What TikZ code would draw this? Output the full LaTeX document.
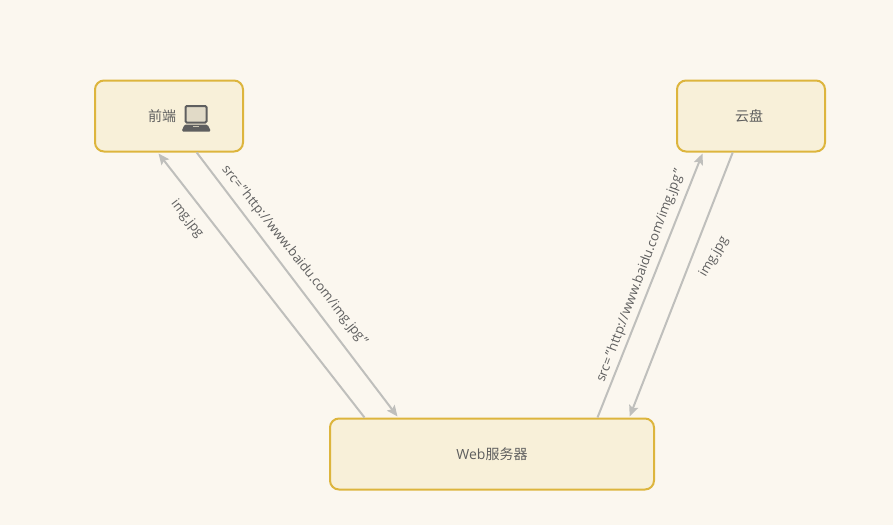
\documentclass[tikz,border=0pt]{standalone}
\usepackage{fontspec}
\setmainfont{Open Sans}
\newfontfamily\cjk{Noto Sans CJK SC}
\definecolor{bgc}{HTML}{FBF7EF}
\definecolor{boxfill}{HTML}{F8F0D9}
\definecolor{boxline}{HTML}{DDB53D}
\definecolor{linkc}{HTML}{BFBFBC}
\definecolor{txt}{HTML}{5F5F5F}
\usetikzlibrary{arrows.meta,calc}
\tikzset{
 boxnode/.style={draw=boxline,fill=boxfill,line width=2pt,rounded corners=9pt,text=txt,font=\fontsize{14}{16}\selectfont,inner sep=0pt},
 link/.style={draw=linkc,line width=2pt,-{Stealth[length=11pt,width=9.5pt,inset=2pt]}},
 lab/.style={text=txt,font=\fontsize{13}{15}\selectfont,inner sep=0pt},
 longlab/.style={text=txt,font=\fontsize{13.2}{15}\selectfont,inner sep=0pt}
}
\begin{document}
\begin{tikzpicture}[x=1pt,y=-1pt]
\useasboundingbox[fill=bgc] (0,0) rectangle (893,525);
\node[boxnode,minimum width=148pt,minimum height=71pt] (fe) at (169,116) {};
\node[boxnode,minimum width=148pt,minimum height=71pt] (pan) at (751,116) {};
\node[boxnode,minimum width=324pt,minimum height=71pt] (web) at (492,454) {};
\node[lab,font=\fontsize{14}{16}\selectfont] (fetext) at (162,116.5) {\cjk 前端};
\node[lab,font=\fontsize{14}{16}\selectfont] (pantext) at (749,116.5) {\cjk 云盘};
\node[lab,font=\fontsize{14}{16}\selectfont] (webtext) at (492,454) {Web{\cjk 服务器}};
% laptop icon
\draw[txt,line width=2pt,rounded corners=1.2pt,fill=boxfill!85!txt] (185.5,106) rectangle (206.5,122.5);
\fill[txt,rounded corners=1.5pt] (184.5,124.5) -- (207.5,124.5) -- (211,131.5) -- (181.5,131.5) -- cycle;
\fill[boxfill!70!txt] (193,125.7) rectangle (199,127);
\coordinate (a1) at ($(web.north west)+(35.5,0)$);
\coordinate (a2) at ($(fe.south west)+(64.5,1)$);
\coordinate (b1) at ($(fe.south west)+(102.7,0)$);
\coordinate (b2) at ($(web.north west)+(68.5,-1)$);
\coordinate (c1) at ($(web.north west)+(268.5,0)$);
\coordinate (c2) at ($(pan.south west)+(26.5,1)$);
\coordinate (d1) at ($(pan.south west)+(56.7,0)$);
\coordinate (d2) at ($(web.north west)+(300.7,-1)$);
\draw[link] (a1) -- (a2);
\draw[link] (b1) -- (b2);
\draw[link] (c1) -- (c2);
\draw[link] (d1) -- (d2);
\node[lab,rotate=-52] (l1) at (187,219) {img.jpg};
\node[longlab,rotate=-51.5] (l2) at (294.5,255.5) {src=\kern1.5pt"\kern1.5pt http://www.baidu.com/img.jpg\kern1pt"};
\node[longlab,rotate=69.5] (l3) at (640.5,276) {src=\kern1.5pt"\kern1.5pt http://www.baidu.com/img.jpg\kern1pt"};
\node[lab,rotate=60] (l4) at (714,257) {img.jpg};
\end{tikzpicture}
\end{document}
